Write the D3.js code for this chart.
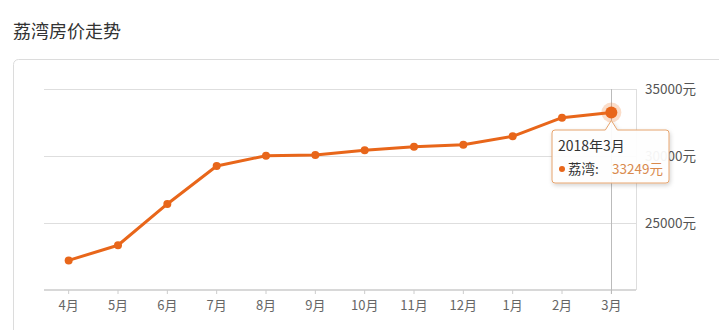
<!DOCTYPE html>
<html><head><meta charset="utf-8">
<script src="https://cdn.jsdelivr.net/npm/d3@7"></script>
<style>
html,body{margin:0;padding:0;background:#fff;}
svg{display:block;font-family:"Noto Sans CJK SC","Noto Sans",sans-serif;}
</style></head>
<body>
<svg id="c" width="719" height="330"></svg>
<script>
const title = "荔湾房价走势";
const seriesName = "荔湾";
const months = ["4月","5月","6月","7月","8月","9月","10月","11月","12月","1月","2月","3月"];
const prices = [22210, 23340, 26420, 29250, 30020, 30080, 30430, 30690, 30840, 31470, 32860, 33249];
const yTicks = [25000, 30000, 35000];
const tooltipTitle = "2018年3月";
const highlightIndex = 11;

const svg = d3.select("#c");
svg.append("text").attr("x",13).attr("y",38).attr("font-size",18).attr("fill","#333").text(title);
svg.append("rect").attr("x",13.5).attr("y",59.5).attr("width",740).attr("height",300).attr("rx",5)
  .attr("fill","#fff").attr("stroke","#dcdcdc");

const L=44, R=636, T=89, B=290;
const x = d3.scaleBand().domain(months).range([L,R]);
const cx = d => x(d)+x.bandwidth()/2;
const y = d3.scaleLinear().domain([20000,35000]).range([B,T]);

// gridlines
svg.append("g").selectAll("line").data(yTicks).join("line")
  .attr("x1",L).attr("x2",R).attr("y1",d=>Math.round(y(d))+0.5).attr("y2",d=>Math.round(y(d))+0.5)
  .attr("stroke","#dedede");
// right border
svg.append("line").attr("x1",R+0.5).attr("x2",R+0.5).attr("y1",T).attr("y2",B).attr("stroke","#dedede");

// y axis labels on right
const yAxis = d3.axisRight(y).tickValues(yTicks).tickSize(0).tickPadding(9).tickFormat(d=>d+"元");
const ya = svg.append("g").attr("transform",`translate(${R},0)`).call(yAxis);
ya.select(".domain").remove();
ya.selectAll("text").attr("font-size",13.5).attr("fill","#555").style("font-family","'Noto Sans CJK SC',sans-serif");

// x axis
const xAxis = d3.axisBottom(x).tickSize(4).tickPadding(7);
const xa = svg.append("g").attr("transform",`translate(0,${B})`).call(xAxis);
xa.select(".domain").attr("stroke","#d8d8d8").attr("stroke-width",2).attr("d",`M${L},0H${R}`);
xa.selectAll(".tick line").attr("stroke","#ccc");
xa.selectAll("text").attr("font-size",13).attr("fill","#666").style("font-family","'Noto Sans CJK SC',sans-serif");

// crosshair
const hx = cx(months[highlightIndex]);
svg.append("line").attr("x1",Math.round(hx)+0.5).attr("x2",Math.round(hx)+0.5).attr("y1",T).attr("y2",B+4)
  .attr("stroke","#bbb");

const color = "#e8661a";
const data = months.map((m,i)=>({m,v:prices[i]}));
svg.append("path").datum(data)
  .attr("d", d3.line().x(d=>cx(d.m)).y(d=>y(d.v)))
  .attr("fill","none").attr("stroke",color).attr("stroke-width",3).attr("stroke-linejoin","round");
svg.append("g").selectAll("circle").data(data.filter((d,i)=>i!==highlightIndex)).join("circle")
  .attr("cx",d=>cx(d.m)).attr("cy",d=>y(d.v)).attr("r",4).attr("fill",color);
const hd = data[highlightIndex];
svg.append("circle").attr("cx",cx(hd.m)).attr("cy",y(hd.v)).attr("r",10).attr("fill","rgba(240,120,40,0.25)");
svg.append("circle").attr("cx",cx(hd.m)).attr("cy",y(hd.v)).attr("r",6).attr("fill",color);

// tooltip
const tx=552, ty=130, tw=117, th=53;
const defs = svg.append("defs");
const f = defs.append("filter").attr("id","sh").attr("x","-20%").attr("y","-20%").attr("width","140%").attr("height","150%");
f.append("feDropShadow").attr("dx",1).attr("dy",2).attr("stdDeviation",2).attr("flood-color","#000").attr("flood-opacity",0.18);
const tip = svg.append("g");
const px = hx, py = y(hd.v)+8;
tip.append("path").attr("filter","url(#sh)")
  .attr("d",`M${tx+3},${ty} H${px-6} L${px},${py} L${px+6},${ty} H${tx+tw-3} Q${tx+tw},${ty} ${tx+tw},${ty+3} V${ty+th-3} Q${tx+tw},${ty+th} ${tx+tw-3},${ty+th} H${tx+3} Q${tx},${ty+th} ${tx},${ty+th-3} V${ty+3} Q${tx},${ty} ${tx+3},${ty} Z`)
  .attr("fill","rgba(255,255,255,0.93)").attr("stroke","#e6a46e").attr("stroke-width",1);
tip.append("text").attr("x",tx+6).attr("y",ty+21).attr("font-size",14).attr("fill","#333").text(tooltipTitle);
tip.append("circle").attr("cx",tx+10).attr("cy",ty+39).attr("r",3).attr("fill",color);
tip.append("text").attr("x",tx+16).attr("y",ty+44).attr("font-size",13.5).attr("fill","#333").text(seriesName+":");
tip.append("text").attr("x",tx+tw-6).attr("y",ty+44).attr("text-anchor","end").attr("font-size",13.5).attr("fill","#d98a4e").text(hd.v+"元");
</script>
</body></html>
